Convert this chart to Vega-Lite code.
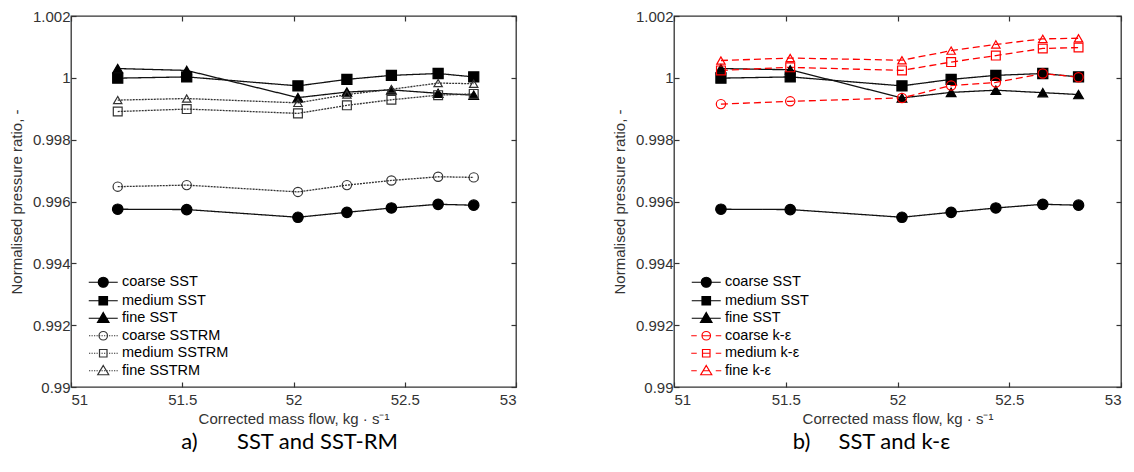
{
  "$schema": "https://vega.github.io/schema/vega-lite/v6.json",
  "padding": {"left": 8, "top": 8, "right": 2, "bottom": 2},
  "background": "white",
  "datasets": {
    "a": [
      {"series": "coarse SST", "x": 51.21, "y": 0.99575},
      {"series": "coarse SST", "x": 51.52, "y": 0.99574},
      {"series": "coarse SST", "x": 52.02, "y": 0.99549},
      {"series": "coarse SST", "x": 52.24, "y": 0.99565},
      {"series": "coarse SST", "x": 52.44, "y": 0.99579},
      {"series": "coarse SST", "x": 52.65, "y": 0.99591},
      {"series": "coarse SST", "x": 52.81, "y": 0.99588},
      {"series": "medium SST", "x": 51.21, "y": 0.99999},
      {"series": "medium SST", "x": 51.52, "y": 1.00003},
      {"series": "medium SST", "x": 52.02, "y": 0.99974},
      {"series": "medium SST", "x": 52.24, "y": 0.99995},
      {"series": "medium SST", "x": 52.44, "y": 1.00008},
      {"series": "medium SST", "x": 52.65, "y": 1.00014},
      {"series": "medium SST", "x": 52.81, "y": 1.00003},
      {"series": "fine SST", "x": 51.21, "y": 1.0003},
      {"series": "fine SST", "x": 51.52, "y": 1.00024},
      {"series": "fine SST", "x": 52.02, "y": 0.99936},
      {"series": "fine SST", "x": 52.24, "y": 0.99954},
      {"series": "fine SST", "x": 52.44, "y": 0.99961},
      {"series": "fine SST", "x": 52.65, "y": 0.9995},
      {"series": "fine SST", "x": 52.81, "y": 0.99944},
      {"series": "coarse SSTRM", "x": 51.21, "y": 0.99648},
      {"series": "coarse SSTRM", "x": 51.52, "y": 0.99653},
      {"series": "coarse SSTRM", "x": 52.02, "y": 0.99631},
      {"series": "coarse SSTRM", "x": 52.24, "y": 0.99653},
      {"series": "coarse SSTRM", "x": 52.44, "y": 0.99668},
      {"series": "coarse SSTRM", "x": 52.65, "y": 0.9968},
      {"series": "coarse SSTRM", "x": 52.81, "y": 0.99678},
      {"series": "medium SSTRM", "x": 51.21, "y": 0.99891},
      {"series": "medium SSTRM", "x": 51.52, "y": 0.99899},
      {"series": "medium SSTRM", "x": 52.02, "y": 0.99885},
      {"series": "medium SSTRM", "x": 52.24, "y": 0.99911},
      {"series": "medium SSTRM", "x": 52.44, "y": 0.99929},
      {"series": "medium SSTRM", "x": 52.65, "y": 0.99944},
      {"series": "medium SSTRM", "x": 52.81, "y": 0.99948},
      {"series": "fine SSTRM", "x": 51.21, "y": 0.99928},
      {"series": "fine SSTRM", "x": 51.52, "y": 0.99933},
      {"series": "fine SSTRM", "x": 52.02, "y": 0.99919},
      {"series": "fine SSTRM", "x": 52.24, "y": 0.99946},
      {"series": "fine SSTRM", "x": 52.44, "y": 0.99963},
      {"series": "fine SSTRM", "x": 52.65, "y": 0.99983},
      {"series": "fine SSTRM", "x": 52.81, "y": 0.99981}
    ],
    "b": [
      {"series": "coarse SST", "x": 51.21, "y": 0.99575},
      {"series": "coarse SST", "x": 51.52, "y": 0.99574},
      {"series": "coarse SST", "x": 52.02, "y": 0.99549},
      {"series": "coarse SST", "x": 52.24, "y": 0.99565},
      {"series": "coarse SST", "x": 52.44, "y": 0.99579},
      {"series": "coarse SST", "x": 52.65, "y": 0.99591},
      {"series": "coarse SST", "x": 52.81, "y": 0.99588},
      {"series": "medium SST", "x": 51.21, "y": 0.99999},
      {"series": "medium SST", "x": 51.52, "y": 1.00003},
      {"series": "medium SST", "x": 52.02, "y": 0.99974},
      {"series": "medium SST", "x": 52.24, "y": 0.99995},
      {"series": "medium SST", "x": 52.44, "y": 1.00008},
      {"series": "medium SST", "x": 52.65, "y": 1.00014},
      {"series": "medium SST", "x": 52.81, "y": 1.00003},
      {"series": "fine SST", "x": 51.21, "y": 1.0003},
      {"series": "fine SST", "x": 51.52, "y": 1.00026},
      {"series": "fine SST", "x": 52.02, "y": 0.99935},
      {"series": "fine SST", "x": 52.24, "y": 0.99953},
      {"series": "fine SST", "x": 52.44, "y": 0.9996},
      {"series": "fine SST", "x": 52.65, "y": 0.99952},
      {"series": "fine SST", "x": 52.81, "y": 0.99946},
      {"series": "coarse k-ε", "x": 51.21, "y": 0.99915},
      {"series": "coarse k-ε", "x": 51.52, "y": 0.99924},
      {"series": "coarse k-ε", "x": 52.02, "y": 0.99935},
      {"series": "coarse k-ε", "x": 52.24, "y": 0.99975},
      {"series": "coarse k-ε", "x": 52.44, "y": 0.99985},
      {"series": "coarse k-ε", "x": 52.65, "y": 1.00014},
      {"series": "coarse k-ε", "x": 52.81, "y": 1.00002},
      {"series": "medium k-ε", "x": 51.21, "y": 1.00024},
      {"series": "medium k-ε", "x": 51.52, "y": 1.00034},
      {"series": "medium k-ε", "x": 52.02, "y": 1.00024},
      {"series": "medium k-ε", "x": 52.24, "y": 1.00051},
      {"series": "medium k-ε", "x": 52.44, "y": 1.00072},
      {"series": "medium k-ε", "x": 52.65, "y": 1.00095},
      {"series": "medium k-ε", "x": 52.81, "y": 1.00098},
      {"series": "fine k-ε", "x": 51.21, "y": 1.00056},
      {"series": "fine k-ε", "x": 51.52, "y": 1.00064},
      {"series": "fine k-ε", "x": 52.02, "y": 1.00057},
      {"series": "fine k-ε", "x": 52.24, "y": 1.00088},
      {"series": "fine k-ε", "x": 52.44, "y": 1.00108},
      {"series": "fine k-ε", "x": 52.65, "y": 1.00126},
      {"series": "fine k-ε", "x": 52.81, "y": 1.00128}
    ]
  },
  "spacing": 93,
  "hconcat": [
    {
      "width": 445,
      "height": 371,
      "data": {"name": "a"},
      "title": {"text": "a)\u00a0\u00a0\u00a0\u00a0\u00a0\u00a0\u00a0SST and SST-RM", "orient": "bottom", "anchor": "middle", "frame": "group", "font": "Lato", "fontSize": 22, "fontWeight": "normal", "color": "black", "offset": 6, "dx": -4},
      "resolve": {
        "scale": {"shape": "independent", "fill": "independent", "stroke": "independent", "color": "independent", "strokeDash": "independent", "size": "independent"},
        "axis": {"x": "independent", "y": "independent"}
      },
      "layer": [
        {
          "mark": {"type": "line", "strokeWidth": 1.3},
          "encoding": {
            "x": {"field": "x", "type": "quantitative", "scale": {"domain": [51, 53], "nice": false, "zero": false}, "axis": {"orient": "bottom", "values": [51, 51.5, 52, 52.5, 53], "format": ".1~f", "title": "Corrected mass flow, kg · s⁻¹", "labelPadding": 10, "titlePadding": 4}},
            "y": {"field": "y", "type": "quantitative", "scale": {"domain": [0.99, 1.002], "nice": false, "zero": false}, "axis": {"orient": "left", "values": [0.99, 0.992, 0.994, 0.996, 0.998, 1, 1.002], "format": ".3~f", "title": "Normalised pressure ratio, -", "labelPadding": 6, "titlePadding": 8}},
            "color": {"field": "series", "type": "nominal", "scale": {"domain": ["coarse SST", "medium SST", "fine SST", "coarse SSTRM", "medium SSTRM", "fine SSTRM"], "range": ["#111", "#111", "#111", "#333", "#333", "#333"]}, "legend": null},
            "strokeDash": {"field": "series", "type": "nominal", "scale": {"domain": ["coarse SST", "medium SST", "fine SST", "coarse SSTRM", "medium SSTRM", "fine SSTRM"], "range": [[1, 0], [1, 0], [1, 0], [2, 1], [2, 1], [2, 1]]}, "legend": null}
          }
        },
        {
          "mark": {"type": "point", "opacity": 1, "strokeWidth": 1.2},
          "encoding": {
            "x": {"field": "x", "type": "quantitative", "axis": null},
            "y": {"field": "y", "type": "quantitative", "axis": null},
            "shape": {"field": "series", "type": "nominal", "scale": {"domain": ["coarse SST", "medium SST", "fine SST", "coarse SSTRM", "medium SSTRM", "fine SSTRM"], "range": ["circle", "square", "triangle-up", "circle", "square", "triangle-up"]}, "legend": null},
            "fill": {"field": "series", "type": "nominal", "scale": {"domain": ["coarse SST", "medium SST", "fine SST", "coarse SSTRM", "medium SSTRM", "fine SSTRM"], "range": ["#000", "#000", "#000", "transparent", "transparent", "transparent"]}, "legend": null},
            "stroke": {"field": "series", "type": "nominal", "scale": {"domain": ["coarse SST", "medium SST", "fine SST", "coarse SSTRM", "medium SSTRM", "fine SSTRM"], "range": ["#000", "#000", "#000", "#333", "#333", "#333"]}, "legend": null},
            "size": {"field": "series", "type": "nominal", "scale": {"domain": ["coarse SST", "medium SST", "fine SST", "coarse SSTRM", "medium SSTRM", "fine SSTRM"], "range": [110, 70, 120, 100, 64, 110]}, "legend": null}
          }
        },
        {
          "mark": {"type": "point", "opacity": 0, "strokeWidth": 1.2},
          "encoding": {
            "x": {"field": "x", "type": "quantitative", "axis": {"orient": "top", "values": [51, 51.5, 52, 52.5, 53], "labels": false, "title": null}},
            "y": {"field": "y", "type": "quantitative", "axis": {"orient": "right", "values": [0.99, 0.992, 0.994, 0.996, 0.998, 1, 1.002], "labels": false, "title": null}},
            "shape": {"field": "series", "type": "nominal", "scale": {"domain": ["coarse SST", "medium SST", "fine SST", "coarse SSTRM", "medium SSTRM", "fine SSTRM"], "range": [
              "M-2.9,0H2.9M1,0A1,1,0,1,1,-1,0A1,1,0,1,1,1,0Z",
              "M-2.9,0H2.9M-0.85,-0.85H0.85V0.85H-0.85Z",
              "M-2.9,0H2.9M0,-1.15L1.15,0.85H-1.15Z",
              "M-2.85,0H-2.6M-2.35,0H-2.1M-1.85,0H-1.6M-1.35,0H-1.1M-0.85,0H-0.6M-0.35,0H-0.1M0.15,0H0.4M0.65,0H0.9M1.15,0H1.4M1.65,0H1.9M2.15,0H2.4M2.65,0H2.9M0.85,0A0.85,0.85,0,1,1,-0.85,0A0.85,0.85,0,1,1,0.85,0Z",
              "M-2.85,0H-2.6M-2.35,0H-2.1M-1.85,0H-1.6M-1.35,0H-1.1M-0.85,0H-0.6M-0.35,0H-0.1M0.15,0H0.4M0.65,0H0.9M1.15,0H1.4M1.65,0H1.9M2.15,0H2.4M2.65,0H2.9M-0.75,-0.75H0.75V0.75H-0.75Z",
              "M-2.85,0H-2.6M-2.35,0H-2.1M-1.85,0H-1.6M-1.35,0H-1.1M-0.85,0H-0.6M-0.35,0H-0.1M0.15,0H0.4M0.65,0H0.9M1.15,0H1.4M1.65,0H1.9M2.15,0H2.4M2.65,0H2.9M0,-1.05L1.1,0.8H-1.1Z"
            ]}},
            "fill": {"field": "series", "type": "nominal", "scale": {"domain": ["coarse SST", "medium SST", "fine SST", "coarse SSTRM", "medium SSTRM", "fine SSTRM"], "range": ["#000", "#000", "#000", "transparent", "transparent", "transparent"]}},
            "stroke": {"field": "series", "type": "nominal", "scale": {"domain": ["coarse SST", "medium SST", "fine SST", "coarse SSTRM", "medium SSTRM", "fine SSTRM"], "range": ["#000", "#000", "#000", "#333", "#333", "#333"]}}
          }
        }
      ]
    },
    {
      "width": 447,
      "height": 371,
      "data": {"name": "b"},
      "title": {"text": "b)\u00a0\u00a0\u00a0\u00a0\u00a0SST and k-ε", "orient": "bottom", "anchor": "middle", "frame": "group", "font": "Lato", "fontSize": 22, "fontWeight": "normal", "color": "black", "offset": 6, "dx": -26},
      "resolve": {
        "scale": {"shape": "independent", "fill": "independent", "stroke": "independent", "color": "independent", "strokeDash": "independent", "size": "independent"},
        "axis": {"x": "independent", "y": "independent"}
      },
      "layer": [
        {
          "mark": {"type": "line", "strokeWidth": 1.3},
          "encoding": {
            "x": {"field": "x", "type": "quantitative", "scale": {"domain": [51, 53], "nice": false, "zero": false}, "axis": {"orient": "bottom", "values": [51, 51.5, 52, 52.5, 53], "format": ".1~f", "title": "Corrected mass flow, kg · s⁻¹", "labelPadding": 10, "titlePadding": 4}},
            "y": {"field": "y", "type": "quantitative", "scale": {"domain": [0.99, 1.002], "nice": false, "zero": false}, "axis": {"orient": "left", "values": [0.99, 0.992, 0.994, 0.996, 0.998, 1, 1.002], "format": ".3~f", "title": "Normalised pressure ratio, -", "labelPadding": 6, "titlePadding": 8}},
            "color": {"field": "series", "type": "nominal", "scale": {"domain": ["coarse SST", "medium SST", "fine SST", "coarse k-ε", "medium k-ε", "fine k-ε"], "range": ["#111", "#111", "#111", "#ff0000", "#ff0000", "#ff0000"]}, "legend": null},
            "strokeDash": {"field": "series", "type": "nominal", "scale": {"domain": ["coarse SST", "medium SST", "fine SST", "coarse k-ε", "medium k-ε", "fine k-ε"], "range": [[1, 0], [1, 0], [1, 0], [7, 4], [7, 4], [7, 4]]}, "legend": null}
          }
        },
        {
          "mark": {"type": "point", "opacity": 1, "strokeWidth": 1.2},
          "encoding": {
            "x": {"field": "x", "type": "quantitative", "axis": null},
            "y": {"field": "y", "type": "quantitative", "axis": null},
            "shape": {"field": "series", "type": "nominal", "scale": {"domain": ["coarse SST", "medium SST", "fine SST", "coarse k-ε", "medium k-ε", "fine k-ε"], "range": ["circle", "square", "triangle-up", "circle", "square", "triangle-up"]}, "legend": null},
            "fill": {"field": "series", "type": "nominal", "scale": {"domain": ["coarse SST", "medium SST", "fine SST", "coarse k-ε", "medium k-ε", "fine k-ε"], "range": ["#000", "#000", "#000", "transparent", "transparent", "transparent"]}, "legend": null},
            "stroke": {"field": "series", "type": "nominal", "scale": {"domain": ["coarse SST", "medium SST", "fine SST", "coarse k-ε", "medium k-ε", "fine k-ε"], "range": ["#000", "#000", "#000", "#ff0000", "#ff0000", "#ff0000"]}, "legend": null},
            "size": {"field": "series", "type": "nominal", "scale": {"domain": ["coarse SST", "medium SST", "fine SST", "coarse k-ε", "medium k-ε", "fine k-ε"], "range": [110, 70, 120, 100, 64, 110]}, "legend": null}
          }
        },
        {
          "mark": {"type": "point", "opacity": 0, "strokeWidth": 1.2},
          "encoding": {
            "x": {"field": "x", "type": "quantitative", "axis": {"orient": "top", "values": [51, 51.5, 52, 52.5, 53], "labels": false, "title": null}},
            "y": {"field": "y", "type": "quantitative", "axis": {"orient": "right", "values": [0.99, 0.992, 0.994, 0.996, 0.998, 1, 1.002], "labels": false, "title": null}},
            "shape": {"field": "series", "type": "nominal", "scale": {"domain": ["coarse SST", "medium SST", "fine SST", "coarse k-ε", "medium k-ε", "fine k-ε"], "range": [
              "M-2.9,0H2.9M1,0A1,1,0,1,1,-1,0A1,1,0,1,1,1,0Z",
              "M-2.9,0H2.9M-0.85,-0.85H0.85V0.85H-0.85Z",
              "M-2.9,0H2.9M0,-1.15L1.15,0.85H-1.15Z",
              "M-3,0H-1.9M-0.75,0H0.75M1.9,0H3M0.85,0A0.85,0.85,0,1,1,-0.85,0A0.85,0.85,0,1,1,0.85,0Z",
              "M-3,0H-1.9M-0.75,0H0.75M1.9,0H3M-0.75,-0.75H0.75V0.75H-0.75Z",
              "M-3,0H-1.9M-0.75,0H0.75M1.9,0H3M0,-1.05L1.1,0.8H-1.1Z"
            ]}},
            "fill": {"field": "series", "type": "nominal", "scale": {"domain": ["coarse SST", "medium SST", "fine SST", "coarse k-ε", "medium k-ε", "fine k-ε"], "range": ["#000", "#000", "#000", "transparent", "transparent", "transparent"]}},
            "stroke": {"field": "series", "type": "nominal", "scale": {"domain": ["coarse SST", "medium SST", "fine SST", "coarse k-ε", "medium k-ε", "fine k-ε"], "range": ["#000", "#000", "#000", "#ff0000", "#ff0000", "#ff0000"]}}
          }
        }
      ]
    }
  ],
  "config": {
    "view": {"stroke": "#333", "strokeWidth": 1.3},
    "axis": {"grid": false, "domain": false, "labelFont": "Liberation Sans", "labelFontSize": 15, "labelColor": "#333", "titleFont": "Liberation Sans", "titleFontSize": 15, "titleFontWeight": "normal", "titleColor": "#333", "tickColor": "#333", "tickSize": -5, "tickWidth": 1.2},
    "legend": {"orient": "bottom-left", "offset": 9, "padding": 0, "title": null, "symbolSize": 100, "symbolStrokeWidth": 1.2, "symbolOpacity": 1, "symbolOffset": 16, "labelOffset": 11.5, "labelFont": "Liberation Sans", "labelFontSize": 14.5, "labelColor": "#000", "rowPadding": 2.5}
  }
}
